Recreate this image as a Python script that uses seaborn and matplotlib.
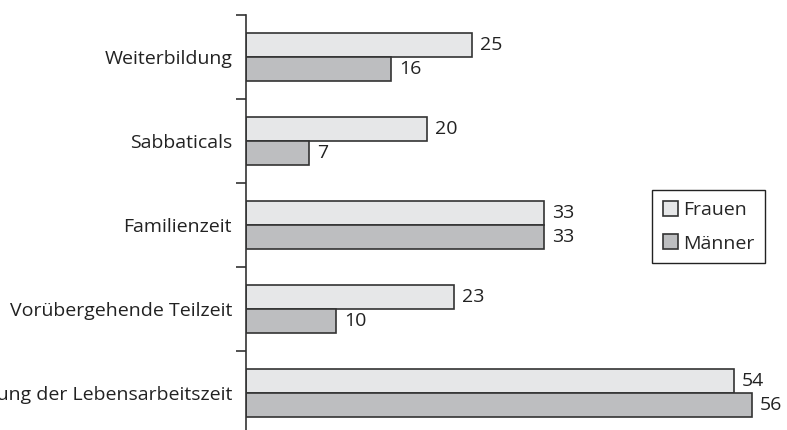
import pandas as pd
import numpy as np
import matplotlib.pyplot as plt
import seaborn as sns

categories = ["Weiterbildung", "Sabbaticals", "Familienzeit",
              "Vorübergehende Teilzeit", "Verkürzung der Lebensarbeitszeit"]
frauen = [25, 20, 33, 23, 54]
maenner = [16, 7, 33, 10, 56]
groups = ["Frauen", "Männer"]
colors = ["#e6e7e8", "#bcbec0"]

df = pd.DataFrame({
    "Kategorie": categories * 2,
    "Wert": frauen + maenner,
    "Gruppe": [groups[0]] * len(categories) + [groups[1]] * len(categories),
})

sns.set_style("white")
plt.rcParams["font.family"] = ["Open Sans", "DejaVu Sans"]

fig = plt.figure(figsize=(7.87, 4.30), dpi=100)
ax = fig.add_axes([246 / 787, -5 / 430, 542 / 787, 420 / 430])

sns.barplot(data=df, y="Kategorie", x="Wert", hue="Gruppe", orient="h",
            palette=colors, width=0.57, edgecolor="#333333", linewidth=1.2,
            ax=ax, legend=True)

for c in ax.containers:
    ax.bar_label(c, padding=6, fontsize=14, color="#222222")

ax.set_xlim(0, 60)
ax.set_ylim(len(categories) - 0.5, -0.5)
ax.set_xlabel("")
ax.set_ylabel("")
ax.set_xticks([])

sns.despine(ax=ax, top=True, right=True, bottom=True, left=False)
ax.spines["left"].set_color("#333333")
ax.spines["left"].set_linewidth(1.2)

ax.set_yticks(np.arange(-0.5, len(categories), 1), minor=True)
ax.tick_params(axis="y", which="minor", length=7, width=1.2, color="#333333", left=True)
ax.tick_params(axis="y", which="major", length=0, pad=10, labelsize=14, labelcolor="#222222")

handles, labels = ax.get_legend_handles_labels()
ax.legend(handles, labels, loc="upper left", bbox_to_anchor=(652 / 787, 1 - 190 / 430),
          bbox_transform=fig.transFigure, fontsize=14, frameon=True, fancybox=False,
          edgecolor="#222222", handlelength=0.8, handleheight=0.8, handletextpad=0.25,
          borderpad=0.55, borderaxespad=0, labelspacing=0.8, framealpha=1)
ax.get_legend().get_frame().set_linewidth(1.0)

fig.savefig("out.png", dpi=100)
